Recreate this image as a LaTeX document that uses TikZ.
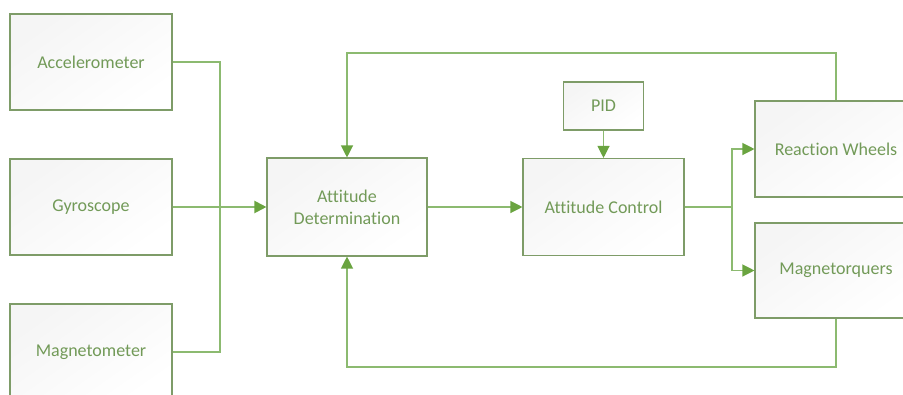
\documentclass[tikz,border=0pt]{standalone}
\usepackage{fontspec}
\setmainfont[Ligatures=NoCommon]{Carlito}
\usetikzlibrary{arrows.meta}
\definecolor{boxline}{HTML}{7E9C68}
\definecolor{wire}{HTML}{8CBA70}
\definecolor{tip}{HTML}{6AA440}
\definecolor{label}{HTML}{729A58}
\tikzset{
  block/.style={draw=boxline, line width=1.1pt, rectangle, inner sep=2pt,
    top color=black!4, bottom color=white, shading angle=35,
    text=label, font=\fontsize{18}{22}\selectfont, align=center},
  link/.style={draw=wire, line width=1.2pt},
  flow/.style={link, -{Triangle[length=12pt,width=12pt,color=tip]}},
}
\begin{document}
\begin{tikzpicture}[x=1pt,y=-1pt]
\useasboundingbox (0,0) rectangle (903,394);
\clip (0,0) rectangle (903,394);
% sensors
\node[block, minimum width=162pt, minimum height=96pt] (acc) at (91,62) {Accelerometer};
\node[block, minimum width=162pt, minimum height=96pt] (gyr) at (91,207) {Gyroscope};
\node[block, minimum width=162pt, minimum height=96pt] (mag) at (91,352) {Magnetometer};
% processing
\node[block, minimum width=160pt, minimum height=98pt] (det) at (347,207) {Attitude\\Determination};
\node[block, minimum width=161pt, minimum height=97pt] (ctl) at (603.5,207) {Attitude Control};
\node[block, minimum width=80pt, minimum height=48pt] (pid) at (603.5,106) {PID};
% actuators
\node[block, minimum width=162pt, minimum height=96pt] (rw) at (836,149) {Reaction Wheels};
\node[block, minimum width=162pt, minimum height=95pt] (mt) at (836,270.5) {Magnetorquers};
% routing points
\coordinate (bus) at (220,207);
\coordinate (split) at (732,207);
\coordinate (topfb) at (836,53);
\coordinate (botfb) at (836,367);
% sensor bus
\draw[link] (acc.east) -| (bus);
\draw[link] (mag.east) -| (bus);
\draw[link] (gyr.east) -- (bus);
\draw[flow, line width=2pt] (bus) -- (det.west);
% main chain
\draw[flow] (det.east) -- (ctl.west);
\draw[flow] (pid.south) -- (ctl.north);
\draw[link, line width=2pt] (ctl.east) -- (split);
\draw[flow] (split) |- (rw.west);
\draw[flow] (split) |- (mt.west);
% feedback loops
\draw[flow] (rw.north) -- (topfb) -| (det.north);
\draw[flow] (mt.south) -- (botfb) -| (det.south);
\end{tikzpicture}
\end{document}
